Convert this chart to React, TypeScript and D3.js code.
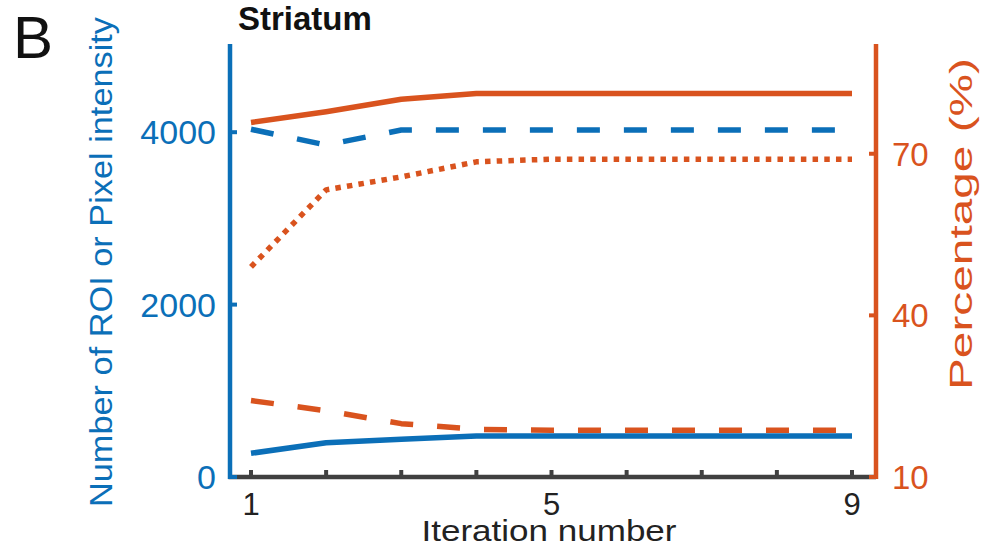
import React, { useEffect, useRef } from "react";
import * as d3 from "d3";

// iteration numbers on the x axis
const iterations = [1, 2, 3, 4, 5, 6, 7, 8, 9];

// left axis (blue): number of ROI and pixel intensity
const roiCount = [275, 398, 437, 476, 476, 476, 476, 476, 476];
const pixelIntensity = [4034, 3851, 4025, 4025, 4025, 4025, 4025, 4025, 4025];

// right axis (orange): percentages
const pctSolid = [75.8, 77.8, 80.1, 81.2, 81.2, 81.2, 81.2, 81.2, 81.2];
const pctDotted = [49.0, 63.3, 65.7, 68.5, 69.0, 69.0, 69.0, 69.0, 69.0];
const pctDashed = [24.2, 22.3, 19.9, 18.85, 18.7, 18.7, 18.7, 18.7, 18.7];

const leftTicks = [0, 2000, 4000];
const rightTicks = [10, 40, 70];
const bottomLabels = [1, 5, 9];

const BLUE = "#0b6fb8";
const ORANGE = "#d9531e";
const GRAY = "#404040";
const FONT = "'Liberation Sans', Arial, sans-serif";

const App = () => {
  const svgRef = useRef<SVGSVGElement>(null);

  useEffect(() => {
    const svg = d3.select(svgRef.current);
    svg.selectAll("*").remove();

    const x = d3.scaleLinear().domain([1, 9]).range([251, 852]);
    const yLeft = d3.scaleLinear().domain([0, 5000]).range([477, 46]);
    const yRight = d3.scaleLinear().domain([10, 90]).range([477, 46]);

    const addLine = (vals: number[], y: d3.ScaleLinear<number, number>, color: string, dash: string | null) => {
      const line = d3
        .line<number>()
        .x((_, i) => x(iterations[i]))
        .y((d) => y(d));
      svg
        .append("path")
        .attr("d", line(vals))
        .attr("fill", "none")
        .attr("stroke", color)
        .attr("stroke-width", 5.5)
        .attr("stroke-linejoin", "round")
        .attr("stroke-dasharray", dash);
    };

    addLine(pctDashed, yRight, ORANGE, "23 24");
    addLine(roiCount, yLeft, BLUE, null);
    addLine(pctDotted, yRight, ORANGE, "5.5 6.2");
    addLine(pixelIntensity, yLeft, BLUE, "23 24");
    addLine(pctSolid, yRight, ORANGE, null);

    // bottom axis
    const xMin = x.invert(228.5);
    const xMax = x.invert(876);
    svg
      .append("line")
      .attr("x1", x(xMin))
      .attr("x2", x(xMax))
      .attr("y1", 477)
      .attr("y2", 477)
      .attr("stroke", GRAY)
      .attr("stroke-width", 4.5);
    iterations.forEach((it) => {
      svg
        .append("line")
        .attr("x1", x(it))
        .attr("x2", x(it))
        .attr("y1", 477)
        .attr("y2", 470)
        .attr("stroke", GRAY)
        .attr("stroke-width", 4);
    });
    bottomLabels.forEach((it) => {
      svg
        .append("text")
        .attr("x", x(it))
        .attr("y", 515)
        .attr("text-anchor", "middle")
        .attr("font-size", 31)
        .attr("fill", "#222")
        .text(it);
    });

    // left axis
    svg
      .append("line")
      .attr("x1", 230)
      .attr("x2", 230)
      .attr("y1", 44)
      .attr("y2", 479)
      .attr("stroke", BLUE)
      .attr("stroke-width", 4.5);
    leftTicks.forEach((t) => {
      svg
        .append("line")
        .attr("x1", 230)
        .attr("x2", 237)
        .attr("y1", yLeft(t))
        .attr("y2", yLeft(t))
        .attr("stroke", BLUE)
        .attr("stroke-width", 4);
      svg
        .append("text")
        .attr("x", 216)
        .attr("y", yLeft(t) + 12)
        .attr("text-anchor", "end")
        .attr("font-size", 34)
        .attr("fill", BLUE)
        .text(t);
    });

    // right axis
    svg
      .append("line")
      .attr("x1", 876)
      .attr("x2", 876)
      .attr("y1", 44)
      .attr("y2", 479)
      .attr("stroke", ORANGE)
      .attr("stroke-width", 4.5);
    rightTicks.forEach((t) => {
      svg
        .append("line")
        .attr("x1", 876)
        .attr("x2", 869)
        .attr("y1", yRight(t))
        .attr("y2", yRight(t))
        .attr("stroke", ORANGE)
        .attr("stroke-width", 4);
      svg
        .append("text")
        .attr("x", 892)
        .attr("y", yRight(t) + 12)
        .attr("text-anchor", "start")
        .attr("font-size", 33)
        .attr("fill", ORANGE)
        .text(t);
    });

    // axis labels
    svg
      .append("text")
      .attr("transform", "translate(112,262) rotate(-90)")
      .attr("text-anchor", "middle")
      .attr("font-size", 32)
      .attr("fill", BLUE)
      .attr("textLength", 490)
      .attr("lengthAdjust", "spacingAndGlyphs")
      .text("Number of ROI or Pixel intensity");
    svg
      .append("text")
      .attr("transform", "translate(972,224) rotate(-90)")
      .attr("text-anchor", "middle")
      .attr("font-size", 32)
      .attr("fill", ORANGE)
      .attr("textLength", 332)
      .attr("lengthAdjust", "spacingAndGlyphs")
      .text("Percentage (%)");
    svg
      .append("text")
      .attr("x", 549)
      .attr("y", 541)
      .attr("text-anchor", "middle")
      .attr("font-size", 30)
      .attr("fill", "#222")
      .attr("textLength", 255)
      .attr("lengthAdjust", "spacingAndGlyphs")
      .text("Iteration number");

    // title and panel letter
    svg
      .append("text")
      .attr("x", 238)
      .attr("y", 30)
      .attr("font-size", 33)
      .attr("font-weight", "bold")
      .attr("fill", "#111")
      .text("Striatum");
    svg
      .append("text")
      .attr("x", 13)
      .attr("y", 58)
      .attr("font-size", 60)
      .attr("fill", "#111")
      .text("B");
  }, []);

  return (
    <svg
      ref={svgRef}
      width={987}
      height={548}
      style={{ position: "absolute", left: 0, top: 0, background: "#fff", fontFamily: FONT }}
    ></svg>
  );
};

export default App;
